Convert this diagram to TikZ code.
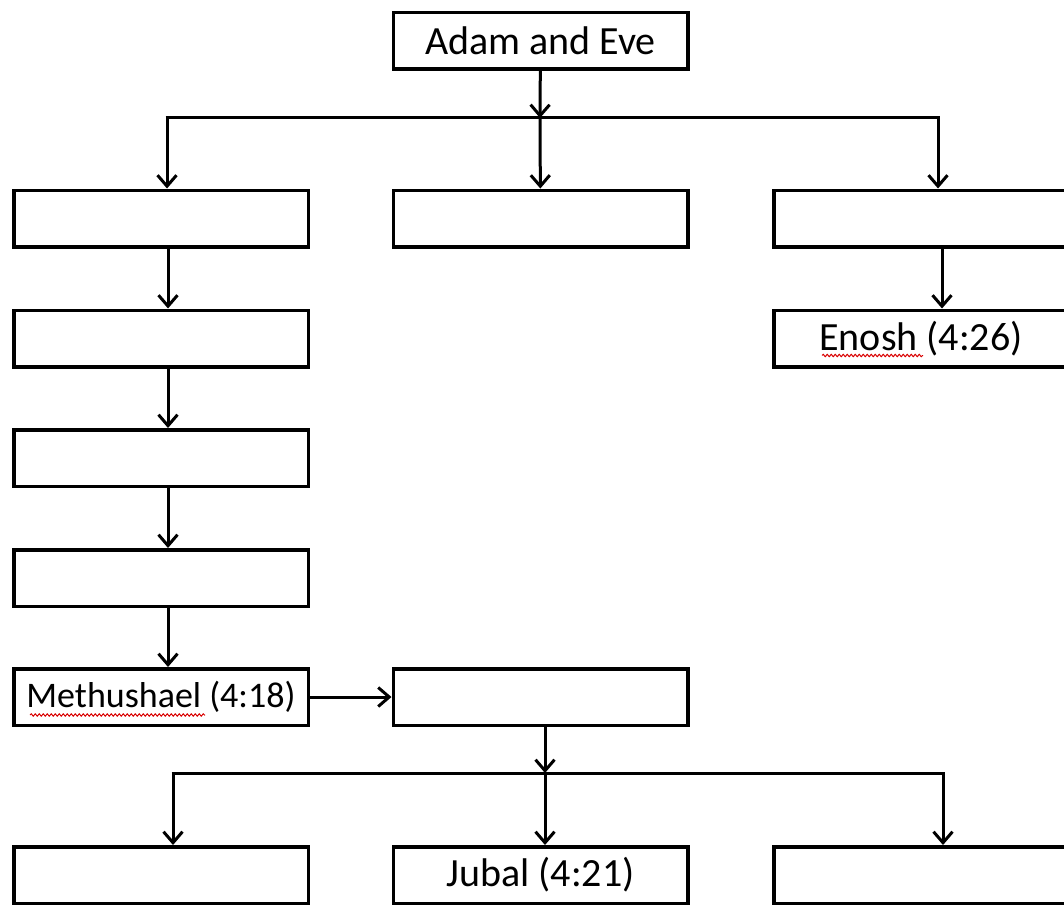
\documentclass[tikz,border=0pt]{standalone}
\usepackage{fontspec}
\setmainfont{Carlito}
\usetikzlibrary{arrows.meta,positioning,calc,decorations.pathmorphing}

\begin{document}
\begin{tikzpicture}[x=1pt,y=-1pt,
    famBox/.style={draw, line width=3.5pt, minimum width=294.5pt, minimum height=56.5pt,
                   inner sep=0pt, font=\fontsize{40}{44}\selectfont},
    link/.style={line width=3pt, -{Straight Barb[length=11pt,width=19pt]}},
    bus/.style={line width=3pt},
    squig/.style={red!85!black, line width=1pt, decorate,
                  decoration={snake,amplitude=1.2pt,segment length=4pt}}]
  % Page size
  \useasboundingbox (0,0) rectangle (1064,904);
  \clip (0,0) rectangle (1064,904);

  % Boxes
  \node[famBox] (adam) at (540.5,41) {Adam and Eve};

  \node[famBox] (cain) at (161,218.5) {};
  \node[famBox] (abel) at (540.5,218.5) {};
  \node[famBox] (seth) at (921,218.5) {};

  \node[famBox] (enoch) at (161,338.5) {};
  \node[famBox] (enosh) at (921,338.5) {Enosh (4:26)};
  \node[famBox] (irad) at (161,458) {};
  \node[famBox] (mehujael) at (161,578) {};

  \node[famBox, font=\fontsize{36}{40}\selectfont] (methushael) at (161,697) {Methushael (4:18)};
  \node[famBox] (lamech) at (540.5,697) {};

  \node[famBox] (jabal) at (161,875) {};
  \node[famBox] (jubal) at (540.5,875) {Jubal (4:21)};
  \node[famBox] (tubal) at (921,875) {};

  % Bus lines
  \coordinate (busTop) at (540,118);
  \coordinate (busL) at (167,118);
  \coordinate (busR) at (938,118);
  \coordinate (busMid) at (545,773);
  \coordinate (busBL) at (173,773);
  \coordinate (busBR) at (943,773);

  \draw[bus] ([xshift=-1.5pt]busL) -- ([xshift=1.5pt]busR);
  \draw[bus] ([xshift=-1.5pt]busBL) -- ([xshift=1.5pt]busBR);

  % Arrows
  \draw[link] (adam) -- (busTop);
  \draw[link] (busTop) -- (abel);
  \draw[link] (busL) -- (busL |- cain.north);
  \draw[link] (busR) -- (busR |- seth.north);

  \draw[link] ([xshift=21pt]seth.south) -- ([xshift=21pt]enosh.north);
  \draw[link] ([xshift=7pt]cain.south) -- ([xshift=7pt]enoch.north);
  \draw[link] ([xshift=7pt]enoch.south) -- ([xshift=7pt]irad.north);
  \draw[link] ([xshift=7pt]irad.south) -- ([xshift=7pt]mehujael.north);
  \draw[link] ([xshift=7pt]mehujael.south) -- ([xshift=7pt]methushael.north);
  \draw[link] (methushael) -- (lamech);

  \draw[link] (busMid |- lamech.south) -- (busMid);
  \draw[link] (busMid) -- (busMid |- jubal.north);
  \draw[link] (busBL) -- (busBL |- jabal.north);
  \draw[link] (busBR) -- (busBR |- tubal.north);

  % Spell check marks
  \draw[squig] ($(enosh.south west)+(50,-13)$) -- ++(101,0);
  \draw[squig] ($(methushael.south west)+(18,-12)$) -- ++(175,0);
\end{tikzpicture}
\end{document}
